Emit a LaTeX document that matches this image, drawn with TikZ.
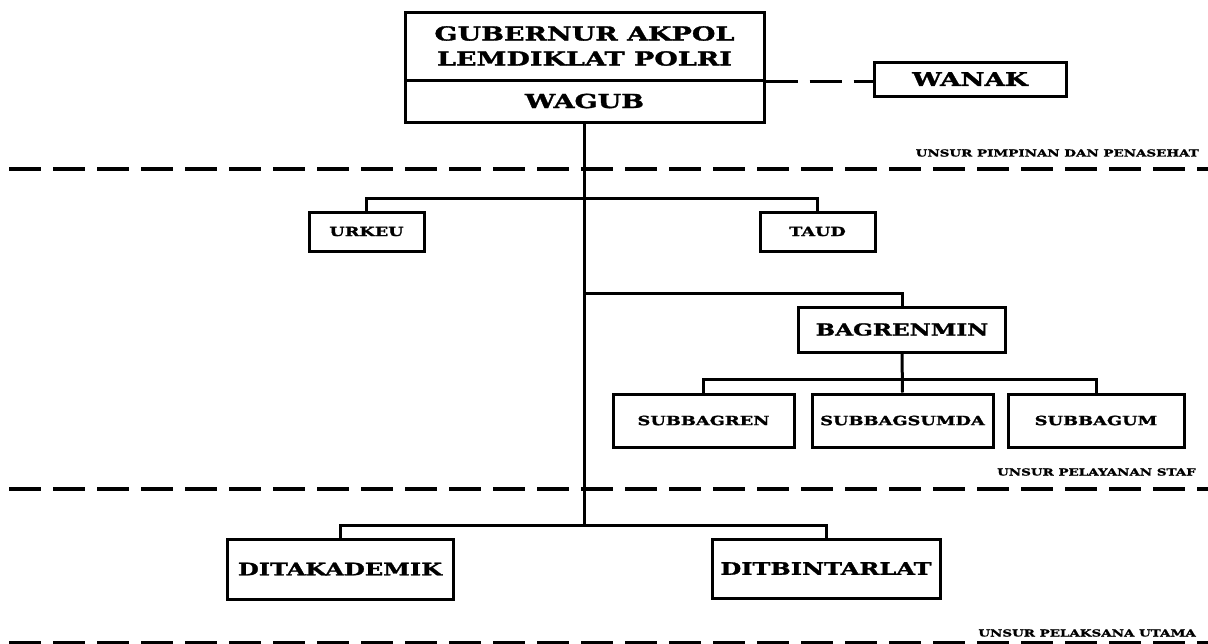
\documentclass[tikz,border=0pt]{standalone}
\usepackage{fontspec}
\setmainfont{DejaVu Serif}[FakeStretch=1.4,BoldFeatures={FakeStretch=1.4,FakeBold=1.6}]

\begin{document}
\begin{tikzpicture}[x=1pt,y=-1pt,
    unit/.style={draw,fill=white,line width=3pt,inner sep=0pt,align=center},
    link/.style={line width=3pt},
    sepline/.style={line width=3.4pt,dash pattern=on 32pt off 12pt},
    tag/.style={anchor=east,inner sep=0pt,font=\bfseries\fontsize{9.6}{12}\selectfont}]
    \useasboundingbox (0,0) rectangle (1208,643);
    % pimpinan
    \node (gub) at (584.5,46) [unit,minimum width=359pt,minimum height=68pt,
        font=\bfseries\fontsize{19.3}{25}\selectfont] {GUBERNUR AKPOL\\LEMDIKLAT POLRI};
    \node (wagub) at (584.5,101) [unit,minimum width=359pt,minimum height=42pt,
        font=\bfseries\fontsize{19.3}{22}\selectfont] {WAGUB};
    \node (wanak) at (970,79) [unit,minimum width=192pt,minimum height=34pt,
        font=\bfseries\fontsize{18.8}{22}\selectfont] {WANAK};
    % staf
    \node (urkeu) at (366.5,231.5) [unit,minimum width=115pt,minimum height=39pt,
        font=\bfseries\fontsize{12.6}{16}\selectfont] {URKEU};
    \node (taud) at (817.5,231.5) [unit,minimum width=115pt,minimum height=39pt,
        font=\bfseries\fontsize{12.6}{16}\selectfont] {TAUD};
    \node (bagren) at (902,329.5) [unit,minimum width=207pt,minimum height=45pt,
        font=\bfseries\fontsize{16.5}{20}\selectfont] {BAGRENMIN};
    \node (subren) at (703.5,420.5) [unit,minimum width=181pt,minimum height=53pt,
        font=\bfseries\fontsize{12.7}{16}\selectfont] {SUBBAGREN};
    \node (subsumda) at (902.5,420.5) [unit,minimum width=181pt,minimum height=53pt,
        font=\bfseries\fontsize{12.7}{16}\selectfont] {SUBBAGSUMDA};
    \node (subum) at (1096,420.5) [unit,minimum width=176pt,minimum height=53pt,
        font=\bfseries\fontsize{12.7}{16}\selectfont] {SUBBAGUM};
    % pelaksana utama
    \node (ditak) at (340,569) [unit,minimum width=226pt,minimum height=60pt,
        font=\bfseries\fontsize{17.2}{22}\selectfont] {DITAKADEMIK};
    \node (ditbin) at (826,568.5) [unit,minimum width=228pt,minimum height=59pt,
        font=\bfseries\fontsize{17.2}{22}\selectfont] {DITBINTARLAT};
    % junctions on the main line
    \coordinate (j1) at (584.5,198);
    \coordinate (j2) at (584.5,293);
    \coordinate (j3) at (584.5,525);
    \coordinate (k1) at (902,379);
    % connectors
    \draw[link] (wagub.south) -- (j3);
    \draw[link,dash pattern=on 32pt off 12pt] (gub.south east) -- (gub.south east -| wanak.west);
    \draw[link] (urkeu.north) |- (j1) -| (taud.north);
    \draw[link] (j2) -| (bagren.north);
    \draw[link] (bagren.south) -- (subsumda.north);
    \draw[link] (subren.north) |- (k1) -| (subum.north);
    \draw[link] (ditak.north) |- (j3) -| (ditbin.north);
    % unsur separators
    \draw[sepline] (9,169) -- (1208,169);
    \draw[sepline] (9,489) -- (1208,489);
    \draw[sepline] (9,642.5) -- (1208,642.5);
    \node (t1) at (1199,153) [tag] {UNSUR PIMPINAN DAN PENASEHAT};
    \node (t2) at (1196,472) [tag] {UNSUR PELAYANAN STAF};
    \node (t3) at (1196,633) [tag] {UNSUR PELAKSANA UTAMA};
  \end{tikzpicture}
\end{document}
